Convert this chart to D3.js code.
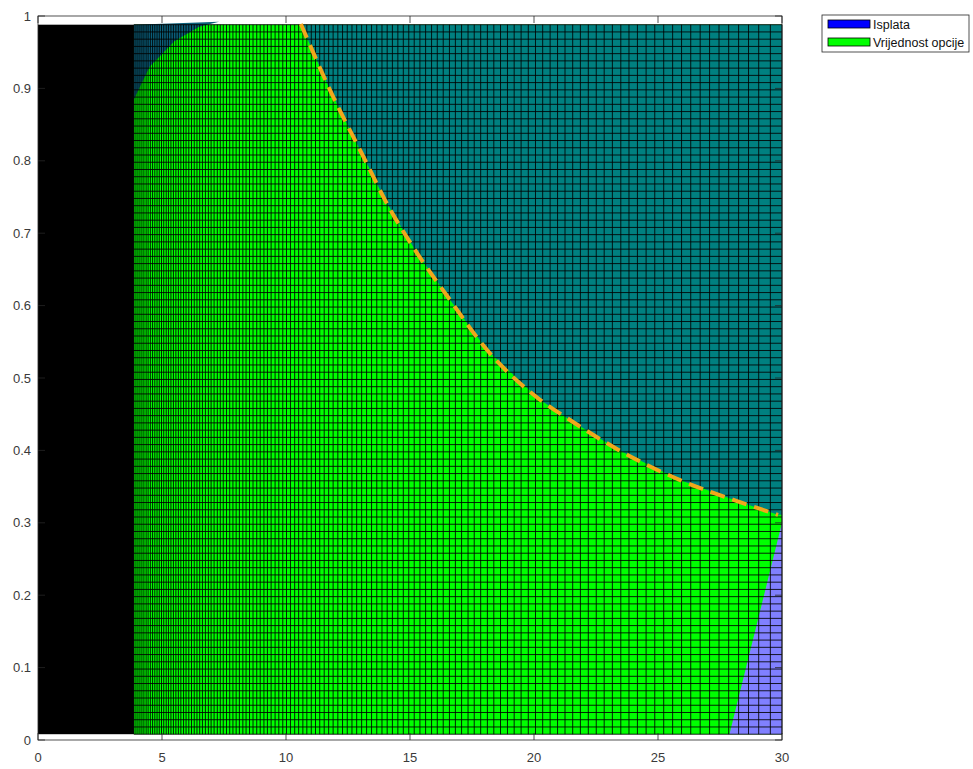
<!DOCTYPE html>
<html>
<head>
<meta charset="utf-8">
<script src="https://cdn.jsdelivr.net/npm/d3@7/dist/d3.min.js"></script>
<style>
  html, body { margin: 0; padding: 0; background: #fff; }
  svg { display: block; }
  text { font-family: "Liberation Sans", Arial, Helvetica, sans-serif; }
</style>
</head>
<body>
<svg id="chart" width="973" height="769"></svg>
<script>
// Surface mesh: asset price nodes (non-uniform, denser at low prices)
const xMesh = [3.87,3.95,4.03,4.11,4.19,4.27,4.36,4.44,4.53,4.62,4.71,4.80,4.89,4.98,5.07,5.17,5.26,5.36,5.46,5.56,
  5.66,5.76,5.87,5.97,6.08,6.19,6.30,6.41,6.52,6.63,6.75,6.87,6.98,7.10,7.23,7.35,7.47,7.60,7.73,7.86,
  7.99,8.12,8.26,8.39,8.53,8.67,8.82,8.96,9.11,9.25,9.40,9.56,9.71,9.87,10.02,10.18,10.35,10.51,10.68,10.84,
  11.02,11.19,11.36,11.54,11.72,11.90,12.09,12.28,12.47,12.66,12.85,13.05,13.25,13.45,13.66,13.87,14.08,14.29,14.51,14.73,
  14.95,15.17,15.40,15.63,15.87,16.10,16.34,16.59,16.83,17.08,17.34,17.59,17.85,18.12,18.38,18.65,18.93,19.20,19.48,19.77,
  20.06,20.35,20.65,20.95,21.25,21.56,21.87,22.19,22.51,22.83,23.16,23.50,23.83,24.17,24.52,24.87,25.23,25.59,25.95,26.32,
  26.70,27.08,27.46,27.85,28.25,28.65,29.06,29.53,30.00];
// Time nodes (uniform)
const yStart = 0.008, yStep = 0.01, yCount = 99;
const yMesh = d3.range(yCount).map(i => yStart + i * yStep);

// Early exercise boundary (dashed line)
const boundaryS = [10.60, 11.77, 13.19, 13.99, 15.20, 16.61, 18.10, 20.24, 21.45, 23.39, 25.89, 28.10, 29.84];
const boundaryT = [0.989, 0.898, 0.801, 0.746, 0.677, 0.608, 0.539, 0.470, 0.442, 0.401, 0.359, 0.331, 0.311];

// Small region near the top-left where the payoff surface lies above
const cornerS = [3.87, 4.5, 5.5, 6.5, 7.3];
const cornerT = [0.885, 0.93, 0.965, 0.985, 0.992];

// Region at the bottom-right where only the payoff surface shows
const payoffS = [27.88, 30.0, 30.0];
const payoffT = [0.008, 0.008, 0.30];

const xTicks = [0, 5, 10, 15, 20, 25, 30];
const yTicks = [0, 0.1, 0.2, 0.3, 0.4, 0.5, 0.6, 0.7, 0.8, 0.9, 1];

const legendLabels = ["Isplata", "Vrijednost opcije"];
const legendColors = ["#0000FF", "#00FF00"];

const svg = d3.select("#chart");
const x = d3.scaleLinear().domain([0, 30]).range([38, 782]);
const y = d3.scaleLinear().domain([0, 1]).range([740, 16]);

const yTop = yMesh[yMesh.length - 1], yBot = yMesh[0];
const plot = svg.append("g");

// Dense part of the mesh renders solid black
plot.append("rect")
  .attr("x", x(0)).attr("y", y(yTop))
  .attr("width", x(xMesh[0]) - x(0)).attr("height", y(yBot) - y(yTop))
  .attr("fill", "#000");

// Option value surface (green)
plot.append("rect")
  .attr("x", x(xMesh[0])).attr("y", y(yTop))
  .attr("width", x(30) - x(xMesh[0])).attr("height", y(yBot) - y(yTop))
  .attr("fill", "#00FF00");

const poly = d3.line().x(d => x(d[0])).y(d => y(d[1]));

// Payoff (blue, semi-transparent) over option value -> teal
const upper = boundaryS.map((s, i) => [s, boundaryT[i]]);
upper.push([30, boundaryT[boundaryT.length - 1]], [30, yTop], [boundaryS[0], yTop]);
plot.append("path").attr("d", poly(upper) + "Z").attr("fill", "#008080");

const corner = cornerS.map((s, i) => [s, cornerT[i]]);
corner.push([cornerS[0], yTop]);
plot.append("path").attr("d", poly(corner) + "Z").attr("fill", "#0A5F7A");

// Payoff alone -> light blue
const payoff = payoffS.map((s, i) => [s, payoffT[i]]);
plot.append("path").attr("d", poly(payoff) + "Z").attr("fill", "#8080FF");

// Mesh edges
const edges = plot.append("g").attr("stroke", "#000").attr("stroke-width", 1).attr("stroke-opacity", 0.85);
edges.selectAll("line.v").data(xMesh).join("line")
  .attr("x1", d => x(d)).attr("x2", d => x(d))
  .attr("y1", y(yTop)).attr("y2", y(yBot));
edges.selectAll("line.h").data(yMesh).join("line")
  .attr("x1", x(xMesh[0])).attr("x2", x(30))
  .attr("y1", d => y(d)).attr("y2", d => y(d));

// Exercise boundary
plot.append("path")
  .datum(boundaryS.map((s, i) => [s, boundaryT[i]]))
  .attr("d", d3.line().x(d => x(d[0])).y(d => y(d[1])).curve(d3.curveMonotoneX))
  .attr("fill", "none")
  .attr("stroke", "#F2A71B")
  .attr("stroke-width", 4)
  .attr("stroke-dasharray", "15,8");

// Axes box and ticks (inward, mirrored)
const axisColor = "#262626";
const tickLen = 7;
const ax = svg.append("g").attr("stroke", axisColor).attr("stroke-width", 0.8);
ax.append("rect").attr("x", x(0)).attr("y", y(1)).attr("width", x(30) - x(0)).attr("height", y(0) - y(1)).attr("fill", "none");
xTicks.forEach(t => {
  ax.append("line").attr("x1", x(t)).attr("x2", x(t)).attr("y1", y(0)).attr("y2", y(0) - tickLen);
  ax.append("line").attr("x1", x(t)).attr("x2", x(t)).attr("y1", y(1)).attr("y2", y(1) + tickLen);
});
yTicks.forEach(t => {
  ax.append("line").attr("x1", x(0)).attr("x2", x(0) + tickLen).attr("y1", y(t)).attr("y2", y(t));
  ax.append("line").attr("x1", x(30)).attr("x2", x(30) - tickLen).attr("y1", y(t)).attr("y2", y(t));
});

const labelColor = "#3a3a3a";
svg.append("g").selectAll("text").data(xTicks).join("text")
  .attr("x", d => x(d)).attr("y", 762)
  .attr("text-anchor", "middle").attr("font-size", 13).attr("fill", labelColor)
  .text(d => d);
svg.append("g").selectAll("text").data(yTicks).join("text")
  .attr("x", 31).attr("y", d => y(d) + 4.5)
  .attr("text-anchor", "end").attr("font-size", 13).attr("fill", labelColor)
  .text(d => d);

// Legend
const lg = svg.append("g");
lg.append("rect").attr("x", 822).attr("y", 15).attr("width", 147).attr("height", 37)
  .attr("fill", "#fff").attr("stroke", axisColor).attr("stroke-width", 0.8);
legendLabels.forEach((lab, i) => {
  lg.append("rect").attr("x", 828).attr("y", 20 + i * 18).attr("width", 42).attr("height", 8)
    .attr("fill", legendColors[i]).attr("stroke", "#000").attr("stroke-width", 0.8);
  lg.append("text").attr("x", 873).attr("y", 28.5 + i * 18)
    .attr("font-size", 12.5).attr("fill", "#111").text(lab);
});
</script>
</body>
</html>
